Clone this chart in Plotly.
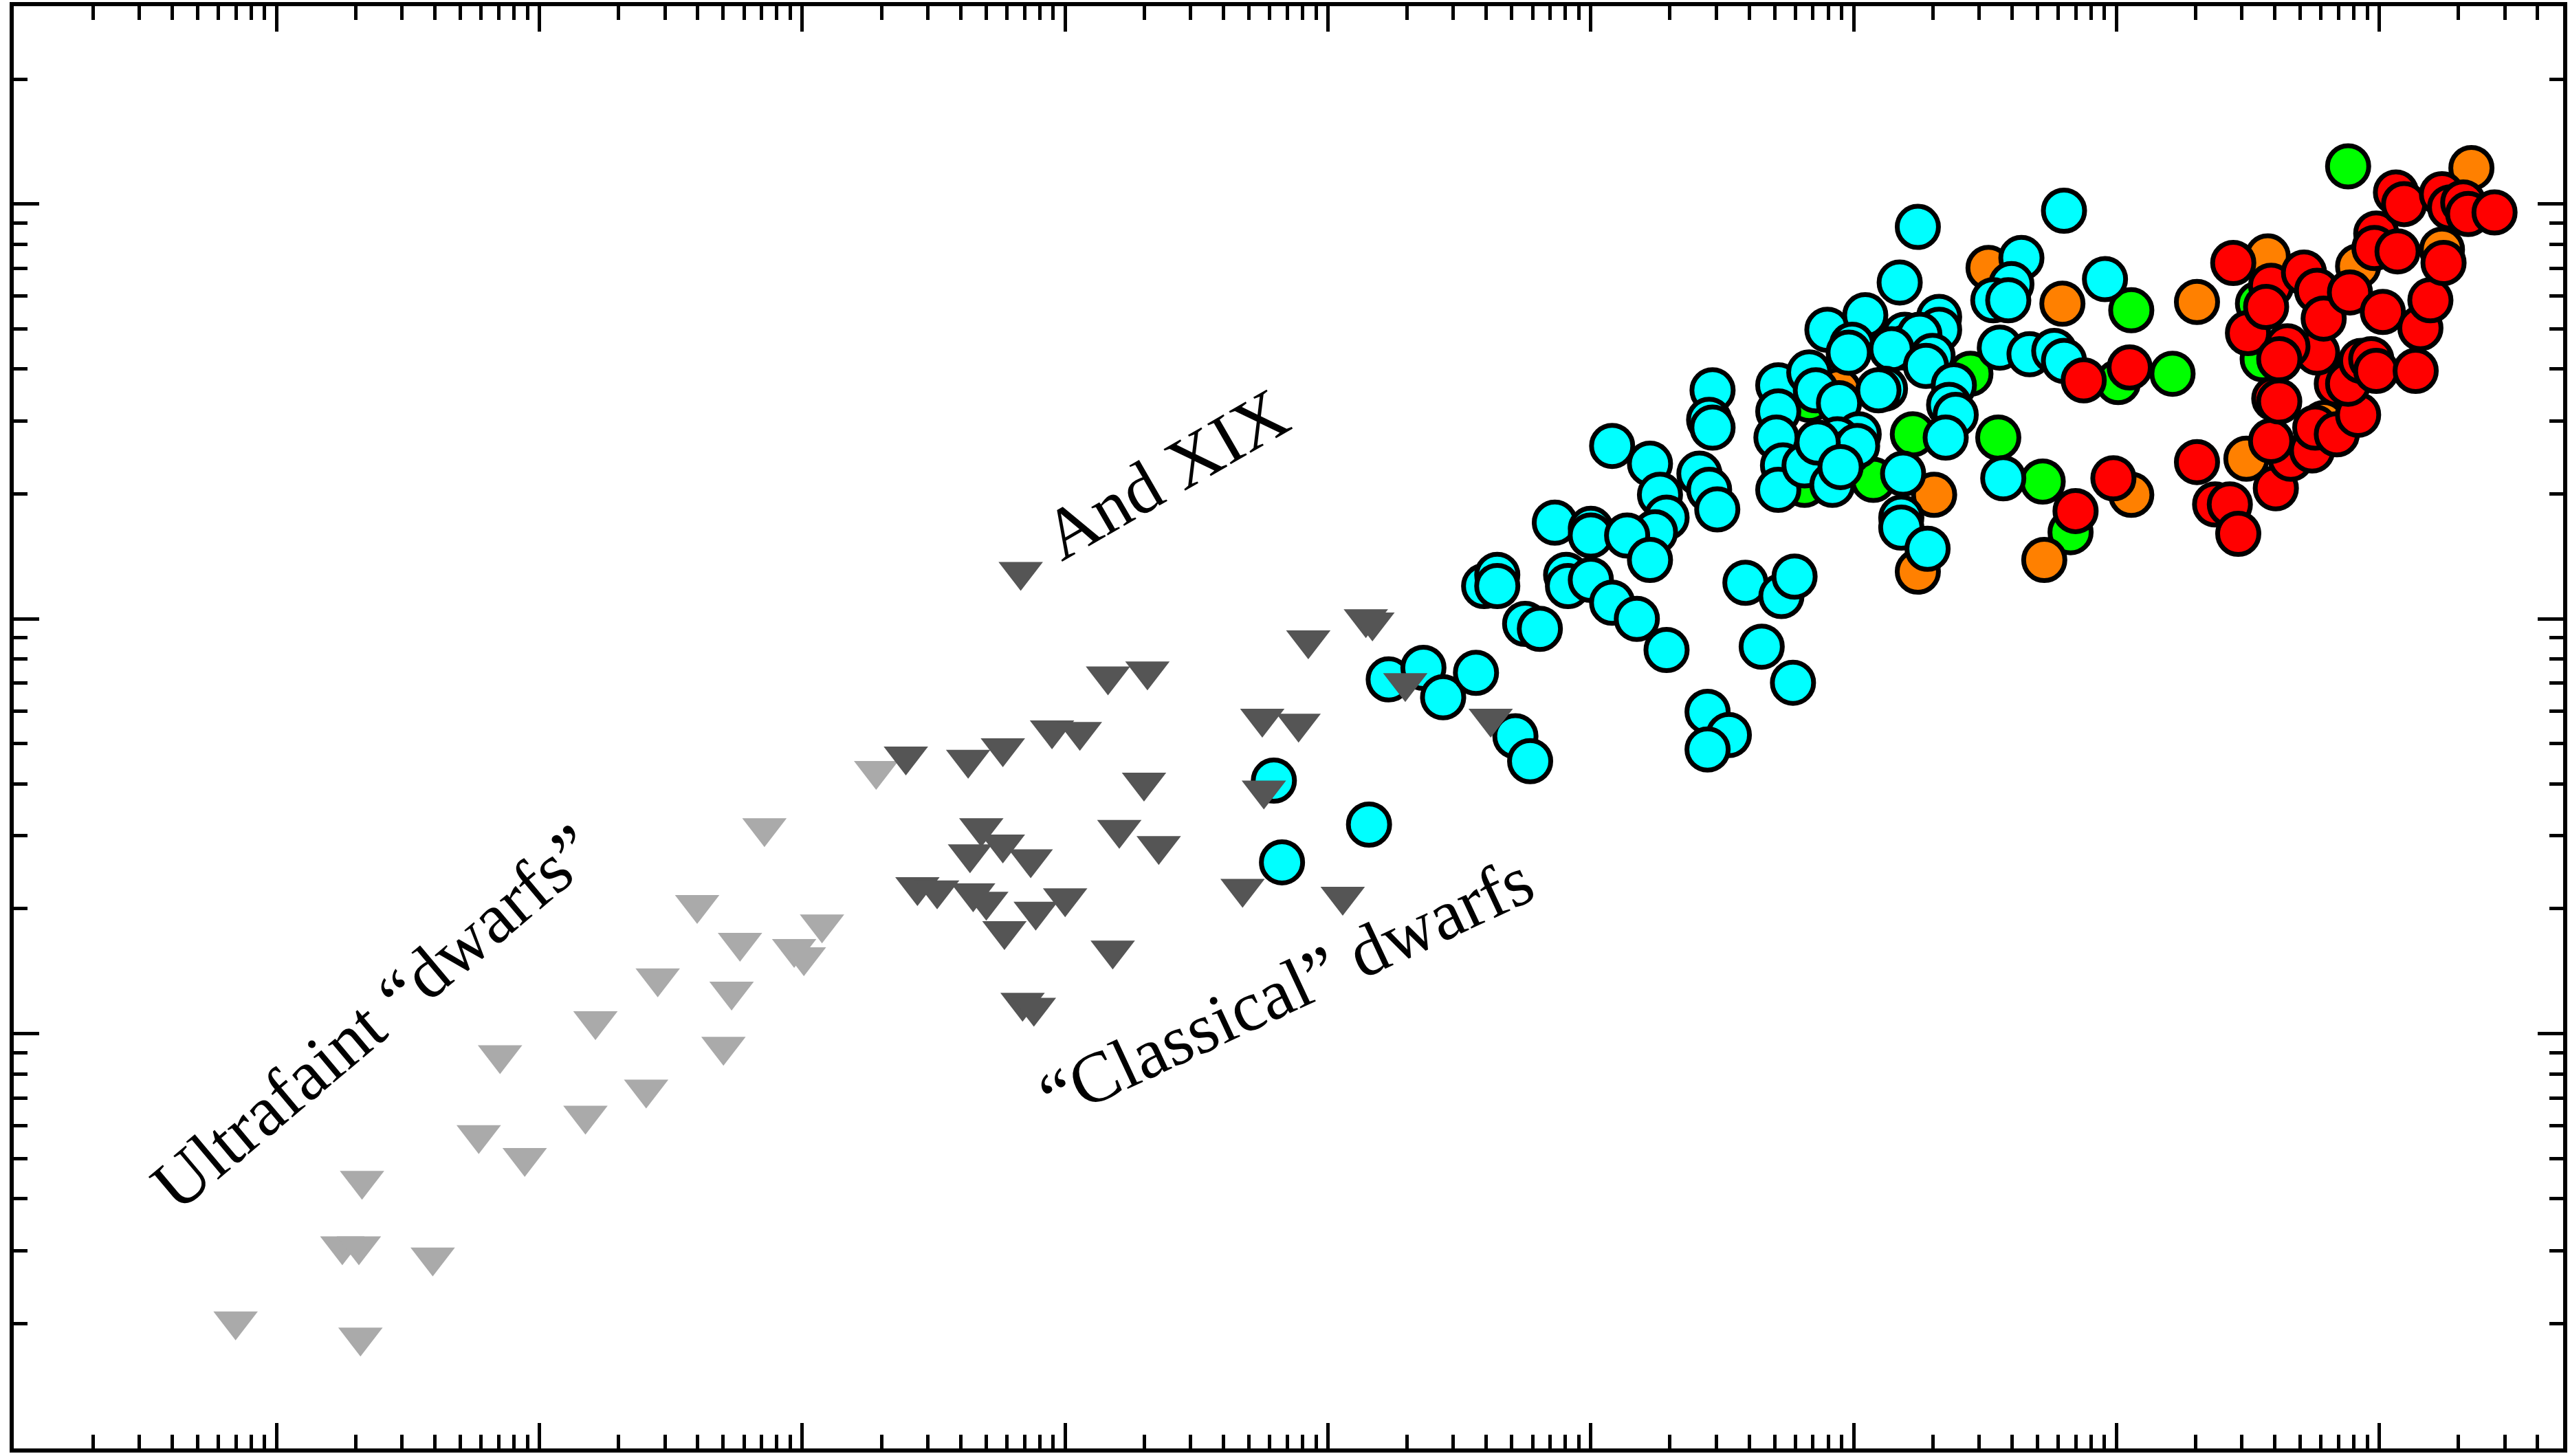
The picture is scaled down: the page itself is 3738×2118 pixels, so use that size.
import numpy as np
import plotly.graph_objects as go

# ---- data: log10 luminosity (L_sun) and log10 half-light radius (pc) ----

# ultrafaint dwarfs
ufd_logL = [2.844, 3.325, 3.250, 3.313, 3.594, 3.319, 3.769, 3.850, 3.944, 4.175, 4.213,
            4.406, 4.450, 4.600, 4.700, 4.731, 4.763, 4.856, 4.969, 5.006, 5.075, 5.281]
ufd_logR = [1.307, 1.646, 1.488, 1.488, 1.461, 1.268, 1.756, 1.949, 1.701, 1.803, 2.031,
            1.866, 2.134, 2.311, 1.969, 2.102, 2.220, 2.496, 2.205, 2.185, 2.264, 2.634]

# classical dwarf spheroidals (first entry: And XIX)
dsph_logL = [5.831, 5.394, 5.631, 5.763, 5.950, 6.056, 6.163, 6.313, 6.300, 5.681, 5.763,
             5.638, 5.869, 6.206, 6.356, 5.438, 5.513, 5.650, 5.700, 5.769, 5.888, 6.000,
             6.181, 5.838, 5.881, 6.750, 6.888, 6.925, 6.756, 6.675, 7.056, 7.144, 7.169,
             7.294, 7.619]
dsph_logR = [3.114, 2.669, 2.661, 2.689, 2.732, 2.728, 2.862, 2.874, 2.606, 2.496, 2.457,
             2.433, 2.421, 2.492, 2.453, 2.354, 2.346, 2.339, 2.319, 2.248, 2.295, 2.327,
             2.201, 2.075, 2.063, 2.760, 2.748, 2.949, 2.587, 2.350, 2.331, 3.000, 2.992,
             2.846, 2.760]

# late-type / irregular galaxies
irr_logL = [6.794, 6.825, 7.156, 7.231, 7.363, 7.438, 7.563, 7.713, 7.769, 7.594, 7.644,
            7.644, 7.750, 7.806, 7.863, 7.906, 7.913, 8.000, 8.000, 8.000, 8.081, 8.175,
            8.288, 8.081, 8.225, 8.263, 8.288, 8.244, 8.138, 8.225, 8.413, 8.450, 8.481,
            8.463, 8.450, 8.463, 8.713, 8.713, 8.706, 8.731, 8.713, 8.813, 8.588, 8.725,
            8.775, 8.650, 8.769, 8.444, 8.525, 8.444, 8.831, 8.900, 9.044, 8.994, 8.981,
            8.856, 8.944, 9.019, 8.919, 8.938, 8.981, 9.013, 8.863, 8.950, 9.244, 9.800,
            9.175, 9.638, 9.600, 9.531, 9.588, 9.956, 9.325, 9.325, 9.194, 9.194, 9.250,
            9.300, 9.144, 9.275, 9.556, 9.669, 9.763, 9.800, 9.119, 9.094, 9.381, 9.363,
            9.388, 9.350, 9.188, 9.181, 9.181, 9.281, 9.569]
irr_logR = [2.610, 2.413, 2.504, 2.854, 2.882, 2.811, 2.870, 2.717, 2.657, 3.079, 3.106,
            3.079, 2.988, 2.976, 3.232, 3.106, 3.079, 3.094, 3.217, 3.201, 3.039, 3.000,
            2.925, 3.417, 3.374, 3.299, 3.244, 3.209, 3.201, 3.142, 3.350, 3.311, 3.264,
            3.551, 3.480, 3.461, 3.563, 3.500, 3.437, 3.370, 3.311, 3.370, 3.087, 3.055,
            3.102, 2.933, 2.846, 2.776, 2.720, 2.685, 3.594, 3.697, 3.732, 3.661, 3.642,
            3.551, 3.520, 3.445, 3.323, 3.433, 3.402, 3.417, 3.425, 3.366, 3.945, 3.984,
            3.811, 3.870, 3.807, 3.768, 3.768, 3.819, 3.728, 3.697, 3.685, 3.654, 3.685,
            3.634, 3.650, 3.610, 3.654, 3.638, 3.646, 3.622, 3.555, 3.551, 3.563, 3.516,
            3.492, 3.437, 3.350, 3.244, 3.220, 3.169, 3.339]

# spirals
sp_logL = [8.831, 8.813, 9.075, 9.225, 9.444, 9.550, 9.719, 9.825, 10.006, 10.056,
           10.213, 10.881, 10.538, 10.556, 11.281]
sp_logR = [3.528, 3.323, 3.335, 3.445, 3.591, 3.437, 3.331, 3.209, 3.571, 3.744,
           3.591, 4.091, 3.760, 3.626, 4.016]

# lenticulars
s0_logL = [8.944, 9.513, 9.794, 9.306, 9.244, 9.725, 10.056, 10.306, 10.494, 10.575,
           10.919, 11.238, 11.350, 10.788]
s0_logR = [3.551, 3.846, 3.760, 3.299, 3.114, 3.142, 3.299, 3.764, 3.386, 3.874,
           3.850, 3.890, 4.087, 3.472]

# ellipticals
ell_logL = [9.875, 10.050, 9.844, 9.988, 10.306, 10.375, 10.431, 10.463, 10.606, 10.663,
            10.588, 10.744, 10.756, 10.838, 10.919, 10.600, 10.619, 10.838, 10.881, 10.931,
            10.969, 10.988, 11.138, 10.763, 10.500, 10.650, 10.619, 10.444, 10.588, 10.569,
            10.713, 10.763, 10.788, 10.888, 11.013, 11.156, 11.194, 11.244, 10.988, 10.981,
            11.069, 11.063, 11.094, 11.238, 11.269, 11.319, 11.338, 11.438]
ell_logR = [3.575, 3.606, 3.260, 3.339, 3.378, 3.276, 3.276, 3.205, 3.315, 3.386,
            3.429, 3.406, 3.461, 3.445, 3.492, 3.531, 3.524, 3.567, 3.567, 3.622,
            3.626, 3.598, 3.598, 3.642, 3.689, 3.657, 3.626, 3.858, 3.803, 3.752,
            3.835, 3.791, 3.724, 3.787, 3.740, 3.701, 3.768, 3.858, 3.929, 3.894,
            3.886, 4.028, 4.000, 4.024, 3.992, 4.004, 3.976, 3.980]

# axis limits (L_sun, pc)
L_MIN, L_MAX = 1e2, 5e11
R_MIN, R_MAX = 1e1, 3e4

# text labels: (text, log10 L, log10 r, angle)
labels = [
    ("Ultrafaint \u201cdwarfs\u201d", 3.37, 2.04, -40),
    ("\u201cClassical\u201d dwarfs", 6.84, 2.11, -25),
    ("And XIX", 6.38, 3.35, -30),
]

fig = go.Figure()


def add_circles(logL, logR, color):
    fig.add_trace(go.Scatter(
        x=10 ** np.asarray(logL), y=10 ** np.asarray(logR), mode="markers",
        marker=dict(symbol="circle", size=60, color=color,
                    line=dict(width=7, color="black")),
        hoverinfo="skip", showlegend=False))


def add_triangles(logL, logR, color):
    fig.add_trace(go.Scatter(
        x=10 ** np.asarray(logL), y=10 ** np.asarray(logR), mode="markers",
        marker=dict(symbol="triangle-down", size=56, color=color,
                    line=dict(width=0)),
        hoverinfo="skip", showlegend=False))


add_circles(sp_logL, sp_logR, "#00ff00")
add_circles(s0_logL, s0_logR, "#ff8000")
add_circles(irr_logL, irr_logR, "#00ffff")
add_circles(ell_logL, ell_logR, "#ff0000")
add_triangles(ufd_logL, ufd_logR, "#aaaaaa")
add_triangles(dsph_logL, dsph_logR, "#555555")

for text, lx, ly, ang in labels:
    fig.add_annotation(x=lx, y=ly, xref="x", yref="y", text=text, showarrow=False,
                       textangle=ang, xanchor="center", yanchor="middle",
                       font=dict(family="Liberation Serif", size=104, color="black"))

axis_style = dict(
    type="log", showgrid=False, zeroline=False,
    showline=True, linecolor="black", linewidth=6, mirror="allticks",
    ticks="inside", ticklen=37, tickwidth=5, tickcolor="black",
    dtick=1, showticklabels=False,
    minor=dict(ticks="inside", ticklen=20, tickwidth=5, tickcolor="black",
               dtick="D1", showgrid=False),
)

fig.update_layout(
    width=3738, height=2118,
    margin=dict(l=20, r=10, t=3, b=11),
    plot_bgcolor="white", paper_bgcolor="white",
    showlegend=False,
    xaxis=dict(range=[np.log10(L_MIN), np.log10(L_MAX)], **axis_style),
    yaxis=dict(range=[np.log10(R_MIN), np.log10(R_MAX)], **axis_style),
)

fig.write_html("out.html", config={"displayModeBar": False})
